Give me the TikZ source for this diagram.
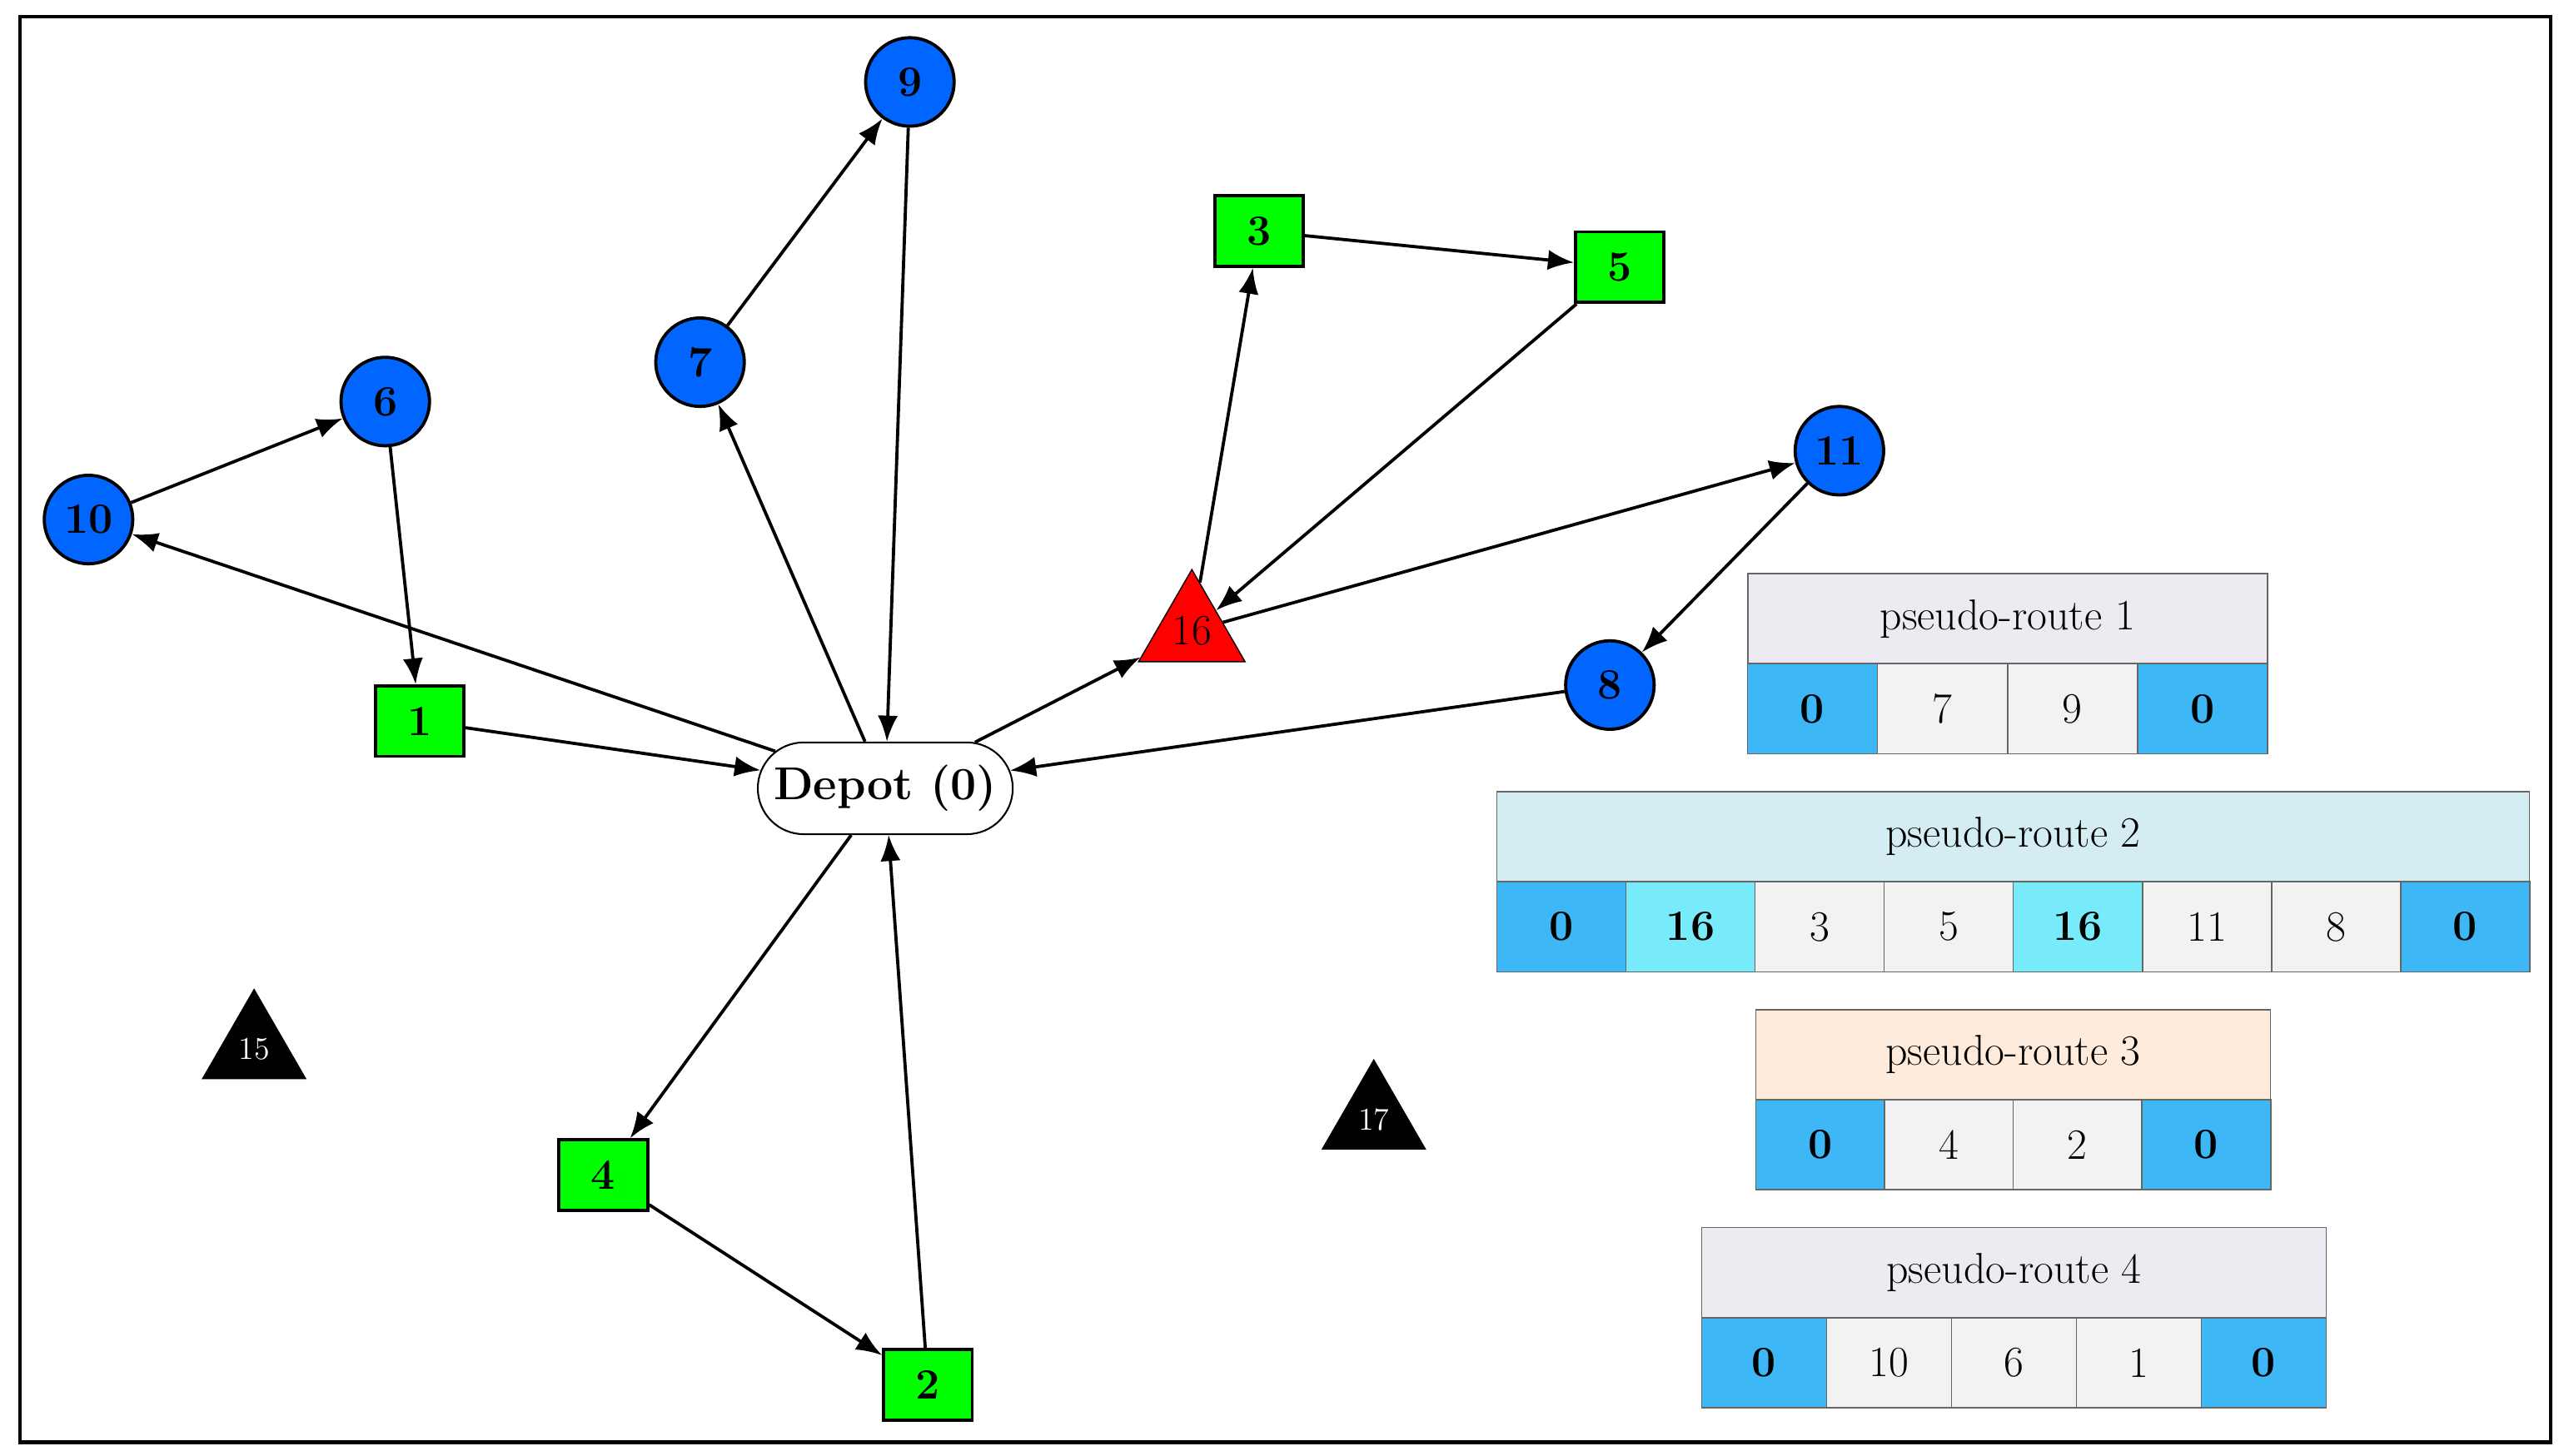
\documentclass[tikz,border=0pt]{standalone}
\usetikzlibrary{shapes,shapes.geometric,arrows.meta,positioning}
\definecolor{cBlue}{RGB}{0,102,255}
\definecolor{cGreen}{RGB}{0,255,0}
\definecolor{cDepot}{RGB}{61,183,245}
\definecolor{cCyan}{RGB}{120,235,250}
\definecolor{cGray}{RGB}{242,242,242}
\definecolor{hLav}{RGB}{238,234,242}
\definecolor{hTeal}{RGB}{212,237,242}
\definecolor{hPeach}{RGB}{255,235,220}
\tikzset{line/.style={draw,-{Latex[length=9pt,width=7pt]},line width=1.1pt}}
\begin{document}
\begin{tikzpicture}[x=0.02cm,y=-0.02cm,
    font=\fontsize{15}{18}\selectfont,
    cust/.style={draw,circle,fill=cBlue,minimum size=1.08cm,inner sep=0pt,line width=1.1pt,font=\fontsize{15}{18}\selectfont\bfseries},
    sq/.style={draw,rectangle,fill=cGreen,minimum width=1.08cm,minimum height=0.86cm,inner sep=0pt,line width=1.1pt,font=\fontsize{15}{18}\selectfont\bfseries},
    stat/.style={draw,regular polygon,regular polygon sides=3,fill=black,text=white,minimum size=1.45cm,inner sep=0pt,font=\fontsize{11}{13}\selectfont},
    cell/.style={draw=black!60,minimum width=#1,minimum height=1.1cm,inner sep=0pt,line width=0.5pt},
    head/.style={draw=black!60,minimum height=1.1cm,inner sep=0pt,line width=0.5pt},
  ]
  \useasboundingbox (0,0) rectangle (1564,888);
  \draw[line width=1.2pt] (12,10) rectangle (1556,880);

  \node[draw,rounded rectangle,minimum width=2.8cm,minimum height=1.12cm,line width=0.6pt,font=\fontsize{16}{19}\selectfont\bfseries] (depot) at (540,481) {Depot (0)};
  \node[cust] (n9) at (555,50) {9};
  \node[cust] (n7) at (427,221) {7};
  \node[cust] (n6) at (235,245) {6};
  \node[cust] (n10) at (54,317) {10};
  \node[cust] (n11) at (1122,275) {11};
  \node[cust] (n8) at (982,418) {8};
  \node[sq] (n1) at (256,440) {1};
  \node[sq] (n3) at (768,141) {3};
  \node[sq] (n5) at (988,163) {5};
  \node[sq] (n4) at (368,717) {4};
  \node[sq] (n2) at (566,845) {2};
  \node[stat,fill=red,text=black,minimum size=1.5cm,font=\fontsize{15}{18}\selectfont] (n16) at (727,385) {16};
  \node[stat] (n15) at (155,640) {15};
  \node[stat] (n17) at (838,683) {17};

  \draw[line] (depot) -- (n10);
  \draw[line] (n10) -- (n6);
  \draw[line] (n6) -- (n1);
  \draw[line] (n1) -- (depot);
  \draw[line] (depot) -- (n7);
  \draw[line] (n7) -- (n9);
  \draw[line] (n9) -- (depot);
  \draw[line] (depot) -- (n16);
  \draw[line] (n16) -- (n3);
  \draw[line] (n3) -- (n5);
  \draw[line] (n5) -- (n16);
  \draw[line] (n16) -- (n11);
  \draw[line] (n11) -- (n8);
  \draw[line] (n8) -- (depot);
  \draw[line] (depot) -- (n4);
  \draw[line] (n4) -- (n2);
  \draw[line] (n2) -- (depot);

  % pseudo-routes
  \node[head,fill=hLav,minimum width=6.34cm] (h1) at (1224.5,377.5) {pseudo-route 1};
  \foreach \v/\c/\i in {0/cDepot/0,7/cGray/1,9/cGray/2,0/cDepot/3}
    \node[cell=1.585cm,fill=\c] (r1c\i) at (1066+39.6+\i*79.25,432.5) {\ifnum\v=0 \bfseries\fi\v};
  \node[head,fill=hTeal,minimum width=12.6cm] (h2) at (1228,510.5) {pseudo-route 2};
  \foreach \v/\c/\i in {0/cDepot/0,16/cCyan/1,3/cGray/2,5/cGray/3,16/cCyan/4,11/cGray/5,8/cGray/6,0/cDepot/7}
    \node[cell=1.575cm,fill=\c] (r2c\i) at (913+39.4+\i*78.75,565.5) {\ifnum\v=0 \bfseries\fi\ifnum\v=16 \bfseries\fi\v};
  \node[head,fill=hPeach,minimum width=6.28cm] (h3) at (1228,643.5) {pseudo-route 3};
  \foreach \v/\c/\i in {0/cDepot/0,4/cGray/1,2/cGray/2,0/cDepot/3}
    \node[cell=1.57cm,fill=\c] (r3c\i) at (1071+39.25+\i*78.5,698.5) {\ifnum\v=0 \bfseries\fi\v};
  \node[head,fill=hLav,minimum width=7.62cm] (h4) at (1228.5,776.5) {pseudo-route 4};
  \foreach \v/\c/\i in {0/cDepot/0,10/cGray/1,6/cGray/2,1/cGray/3,0/cDepot/4}
    \node[cell=1.524cm,fill=\c] (r4c\i) at (1038+38.1+\i*76.2,831.5) {\ifnum\v=0 \bfseries\fi\v};
\end{tikzpicture}
\end{document}
